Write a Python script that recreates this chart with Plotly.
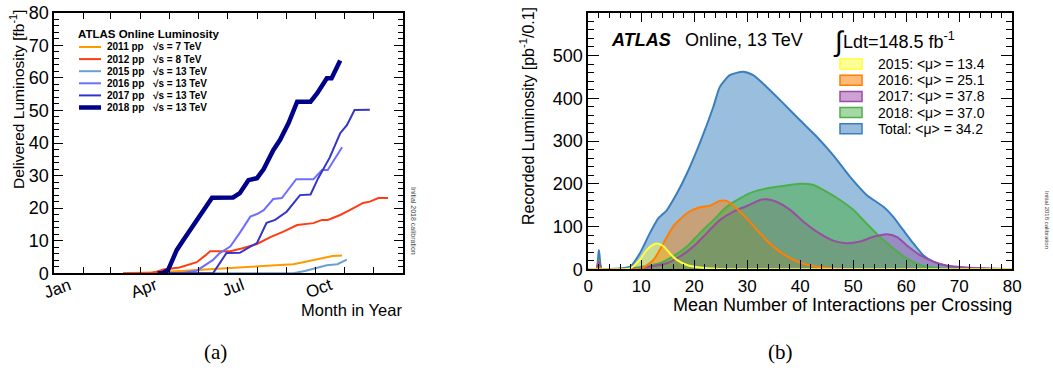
import plotly.graph_objects as go

# ---------------- (a) Delivered luminosity vs day of year ----------------
year_labels = ["2011 pp", "2012 pp", "2015 pp", "2016 pp", "2017 pp", "2018 pp"]
energy_labels = ["√s = 7 TeV", "√s = 8 TeV", "√s = 13 TeV", "√s = 13 TeV", "√s = 13 TeV", "√s = 13 TeV"]
year_colors = ["#ff9900", "#ff3d14", "#6a9fd4", "#6f6fff", "#3434c8", "#00008b"]
year_widths = [2, 2, 2, 2, 2, 4.5]

day_2011 = [72, 110, 149, 184, 218, 236, 250, 264, 278, 291, 301]
lum_2011 = [0, 0.3, 1.0, 1.6, 2.2, 2.6, 2.8, 3.6, 4.6, 5.3, 5.5]
day_2012 = [72, 100, 107, 114, 131, 149, 158, 163, 184, 197, 212, 226, 239, 254, 271, 280, 286, 299, 309, 323, 330, 339, 349]
lum_2012 = [0, 0, 0.5, 1.2, 1.8, 3.4, 5.5, 6.8, 6.8, 7.7, 9.0, 11.1, 12.7, 14.8, 15.4, 16.4, 16.4, 17.9, 19.4, 21.6, 22.0, 23.1, 23.1]
day_2015 = [110, 250, 262, 275, 285, 296, 306]
lum_2015 = [0, 0, 0.7, 1.8, 2.5, 2.8, 4.2]
day_2016 = [110, 131, 149, 155, 166, 173, 184, 194, 205, 212, 219, 229, 238, 253, 271, 280, 286, 301]
lum_2016 = [0, 0, 0.8, 2.0, 4.1, 6.2, 8.2, 12.4, 17.4, 18.2, 19.4, 22.8, 23.1, 28.9, 28.9, 31.7, 31.7, 38.7]
day_2017 = [110, 166, 180, 194, 205, 212, 222, 231, 243, 257, 268, 276, 288, 299, 306, 314, 330]
lum_2017 = [0, 0, 6.2, 6.3, 8.2, 9.3, 15.5, 16.4, 18.9, 24.0, 24.2, 29.2, 35.5, 43.0, 45.5, 50.1, 50.2]
day_2018 = [108, 113, 119, 128, 135, 142, 149, 156, 165, 187, 194, 203, 212, 219, 229, 236, 245, 254, 268, 275, 281, 285, 290, 299]
lum_2018 = [0, 0, 1.0, 7.1, 10.2, 13.3, 16.4, 18.9, 23.2, 23.3, 24.6, 28.6, 29.2, 32.0, 37.8, 40.9, 46.1, 52.7, 52.7, 55.3, 58.4, 59.9, 59.9, 65.3]

labeled_month_days = [0, 90, 181, 273]
labeled_month_text = ["Jan", "Apr", "Jul", "Oct"]
other_month_days = [31, 59, 120, 151, 212, 243, 304, 334, 365]

# ---------------- (b) Recorded luminosity vs pile-up ----------------
mu_labels = ["2015: &lt;μ&gt; = 13.4", "2016: &lt;μ&gt; = 25.1", "2017: &lt;μ&gt; = 37.8",
             "2018: &lt;μ&gt; = 37.0", "Total: &lt;μ&gt; = 34.2"]

mu_total = [0, 1.5, 2.0, 2.5, 3.5, 5, 7.9, 9.7, 11.6, 13.2, 14.8, 16.7, 18.6, 21, 23.6, 24.8, 26.7, 29.2, 31.1, 33.6,
            36.8, 39.9, 43.1, 46.2, 49.4, 52.5, 55.7, 57.5, 59.4, 61.3, 63.2, 65.1, 67.6, 71.4, 75, 80]
lum_total = [0, 0, 45, 0, 0, 1, 6, 37, 84, 119, 138, 177, 224, 294, 380, 426, 454, 462, 454, 427,
             388, 349, 310, 267, 216, 174, 146, 123, 92, 61, 33, 18, 8, 2, 1, 0]
mu_2018 = [0, 1.5, 2.0, 2.5, 3.5, 7, 9.7, 13.5, 16, 18.6, 21, 23.6, 26.1, 28.6, 31.1, 33.6, 36.8, 39.9, 42.5, 45,
           47.5, 50, 52.5, 55, 57.5, 60, 62.6, 65, 70, 80]
lum_2018b = [0, 0, 22, 0, 0, 1, 5, 14, 30, 53, 84, 115, 146, 166, 181, 189, 195, 200, 197, 181,
             162, 139, 107, 76, 49, 26, 10, 4, 0, 0]
mu_2017 = [0, 1.5, 2.0, 2.5, 3.5, 9, 11.6, 14.8, 17.3, 19.8, 22.3, 24.8, 27.4, 29.9, 32.4, 33.6, 35.5, 38.1, 40.6, 43.1,
           46.2, 48.7, 51.3, 53.8, 56.3, 58.2, 60, 62.6, 65.1, 67.6, 71.4, 77.7, 80]
lum_2017b = [0, 0, 18, 0, 0, 1, 6, 14, 30, 53, 84, 115, 135, 148, 162, 164, 158, 139, 111, 88,
             67, 61, 65, 76, 82, 76, 57, 33, 18, 9, 4, 1, 0]
mu_2016 = [0, 1.5, 2.0, 2.5, 3.5, 9, 10.4, 12.3, 14.2, 16, 18.6, 21, 23, 24.8, 26.1, 28, 29.9, 32.4, 34.9, 37.4,
           39.9, 43.1, 46.2, 50, 80]
lum_2016b = [0, 0, 6, 0, 0, 0, 4, 22, 61, 100, 131, 145, 149, 160, 160, 142, 119, 84, 53, 31,
             16, 6, 2, 0, 0]
mu_2015 = [0, 6, 7.9, 9.7, 11, 12.3, 13.2, 14.2, 15.4, 16.7, 18.6, 21, 24.2, 28, 80]
lum_2015b = [0, 0, 2, 22, 45, 58, 60, 54, 37, 22, 10, 4, 1, 0, 0]

# index order: 2015, 2016, 2017, 2018, Total
mu_line_colors = ["#ffff33", "#ff7f00", "#984ea3", "#4daf4a", "#3a7ebf"]
mu_fill_colors = ["rgba(255,255,60,0.45)", "rgba(255,127,0,0.45)", "rgba(152,78,163,0.45)",
                  "rgba(77,175,74,0.55)", "rgba(31,110,180,0.45)"]
mu_box_colors = ["#ffff99", "#ffbb77", "#cfa2d6", "#a6d8a6", "#9abcdc"]

FONT = "Liberation Sans, Arial, sans-serif"
W, H = 1053, 371

fig = go.Figure()

days = [day_2011, day_2012, day_2015, day_2016, day_2017, day_2018]
lums = [lum_2011, lum_2012, lum_2015, lum_2016, lum_2017, lum_2018]
for d, l, c, w, name in zip(days, lums, year_colors, year_widths, year_labels):
    fig.add_trace(go.Scatter(x=d, y=l, mode="lines", line=dict(color=c, width=w),
                             name=name, xaxis="x", yaxis="y", showlegend=False))

mus = [mu_2015, mu_2016, mu_2017, mu_2018, mu_total]
mls = [lum_2015b, lum_2016b, lum_2017b, lum_2018b, lum_total]
# fills first (total at back), then outlines on top
for idx in [4, 0, 1, 2, 3]:
    fig.add_trace(go.Scatter(x=mus[idx], y=mls[idx], mode="lines", fill="tozeroy",
                             fillcolor=mu_fill_colors[idx],
                             line=dict(color="rgba(0,0,0,0)", width=0, shape="spline", smoothing=0.6),
                             xaxis="x2", yaxis="y2", showlegend=False, hoverinfo="skip"))
for idx in [4, 3, 2, 1, 0]:
    fig.add_trace(go.Scatter(x=mus[idx], y=mls[idx], mode="lines",
                             line=dict(color=mu_line_colors[idx], width=2, shape="spline", smoothing=0.6),
                             xaxis="x2", yaxis="y2", showlegend=False))

def px(x):
    return x / W

def py(y):
    return 1 - y / H

axis_common = dict(showline=True, linecolor="black", linewidth=2, mirror="ticks",
                   ticks="inside", tickcolor="black", tickwidth=1.2, showgrid=False,
                   zeroline=False, automargin=False,
                   tickfont=dict(family=FONT, size=17, color="black"))

fig.update_layout(
    width=W, height=H, margin=dict(l=0, r=0, t=0, b=0, pad=0),
    paper_bgcolor="white", plot_bgcolor="white", showlegend=False,
    xaxis=dict(domain=[px(54.3), px(403.3)], range=[0, 365], tickmode="array",
               tickvals=labeled_month_days, ticktext=labeled_month_text, ticklen=6, tickangle=-20,
               ticklabelshift=15, ticklabelstandoff=-6,
               minor=dict(tickmode="array", tickvals=other_month_days, ticklen=6,
                          ticks="inside", tickcolor="black", tickwidth=1.2),
               anchor="y", **axis_common),
    yaxis=dict(domain=[py(273.3), py(12.7)], range=[0, 80], dtick=10, ticklen=9,
               minor=dict(dtick=2, ticklen=5, ticks="inside", tickcolor="black"),
               anchor="x", **axis_common),
    xaxis2=dict(domain=[px(588.3), px(1012.3)], range=[0, 80], dtick=10, ticklen=9,
                minor=dict(dtick=2, ticklen=5, ticks="inside", tickcolor="black"),
                anchor="y2", **axis_common),
    yaxis2=dict(domain=[py(269.3), py(12.7)], range=[0, 600], tickmode="array",
                tickvals=[0, 100, 200, 300, 400, 500], ticklen=11,
                minor=dict(dtick=20, tick0=0, ticklen=6, ticks="inside", tickcolor="black"),
                anchor="x2", **axis_common),
)
fig.update_yaxes(tickfont=dict(size=18))

ann = []
shapes = []

def text(x, y, s, size, xanchor="left", yanchor="middle", angle=0, color="black", family=FONT):
    ann.append(dict(x=px(x), y=py(y), xref="paper", yref="paper", text=s, showarrow=False,
                    xanchor=xanchor, yanchor=yanchor, textangle=angle, borderpad=0,
                    font=dict(family=family, size=size, color=color)))

# panel (a) texts
text(17, 100, "Delivered Luminosity [fb<sup>-1</sup>]", 15.5, xanchor="center", angle=-90)
text(403, 310, "Month in Year", 16.5, xanchor="right")
text(413, 221, "Initial 2018 calibration", 7, xanchor="center", angle=90, color="#444444")
text(77, 34, "<b>ATLAS Online Luminosity</b>", 11.5)
for i, (yl, el, c, w) in enumerate(zip(year_labels, energy_labels, year_colors, year_widths)):
    yy = 47 + i * 12.1
    shapes.append(dict(type="line", xref="paper", yref="paper", x0=px(79), x1=px(101),
                       y0=py(yy), y1=py(yy), line=dict(color=c, width=w)))
    text(106, yy, "<b>" + yl + "</b>", 10)
    text(152, yy, "<b>" + el + "</b>", 10)

# panel (b) texts
text(527, 116, "Recorded Luminosity [pb<sup>-1</sup>/0.1]", 16, xanchor="center", angle=-90)
text(1013, 305, "Mean Number of Interactions per Crossing", 18, xanchor="right")
text(1047, 220, "Initial 2018 calibration", 6, xanchor="center", angle=90, color="#444444")
text(610, 40, "<b><i>ATLAS</i></b>", 18)
text(684, 40, "Online, 13 TeV", 18)
text(832, 41, "∫", 28)
text(842, 40, "Ldt=148.5 fb<sup>-1</sup>", 18)
for i, (lab, bc, lc) in enumerate(zip(mu_labels, mu_box_colors, mu_line_colors)):
    yy = 64 + i * 16.2
    shapes.append(dict(type="rect", xref="paper", yref="paper", x0=px(840), x1=px(862),
                       y0=py(yy - 5), y1=py(yy + 5), fillcolor=bc,
                       line=dict(color=lc, width=1.5)))
    text(877, yy, lab, 14)

# captions
text(215, 352, "(a)", 21, xanchor="center", family="Liberation Serif, Times New Roman, serif")
text(780, 352, "(b)", 21, xanchor="center", family="Liberation Serif, Times New Roman, serif")

fig.update_layout(annotations=ann, shapes=shapes)
fig.write_html("out.html", config={"displayModeBar": False},
               post_script="document.body.style.margin='0';document.body.style.overflow='hidden';")
